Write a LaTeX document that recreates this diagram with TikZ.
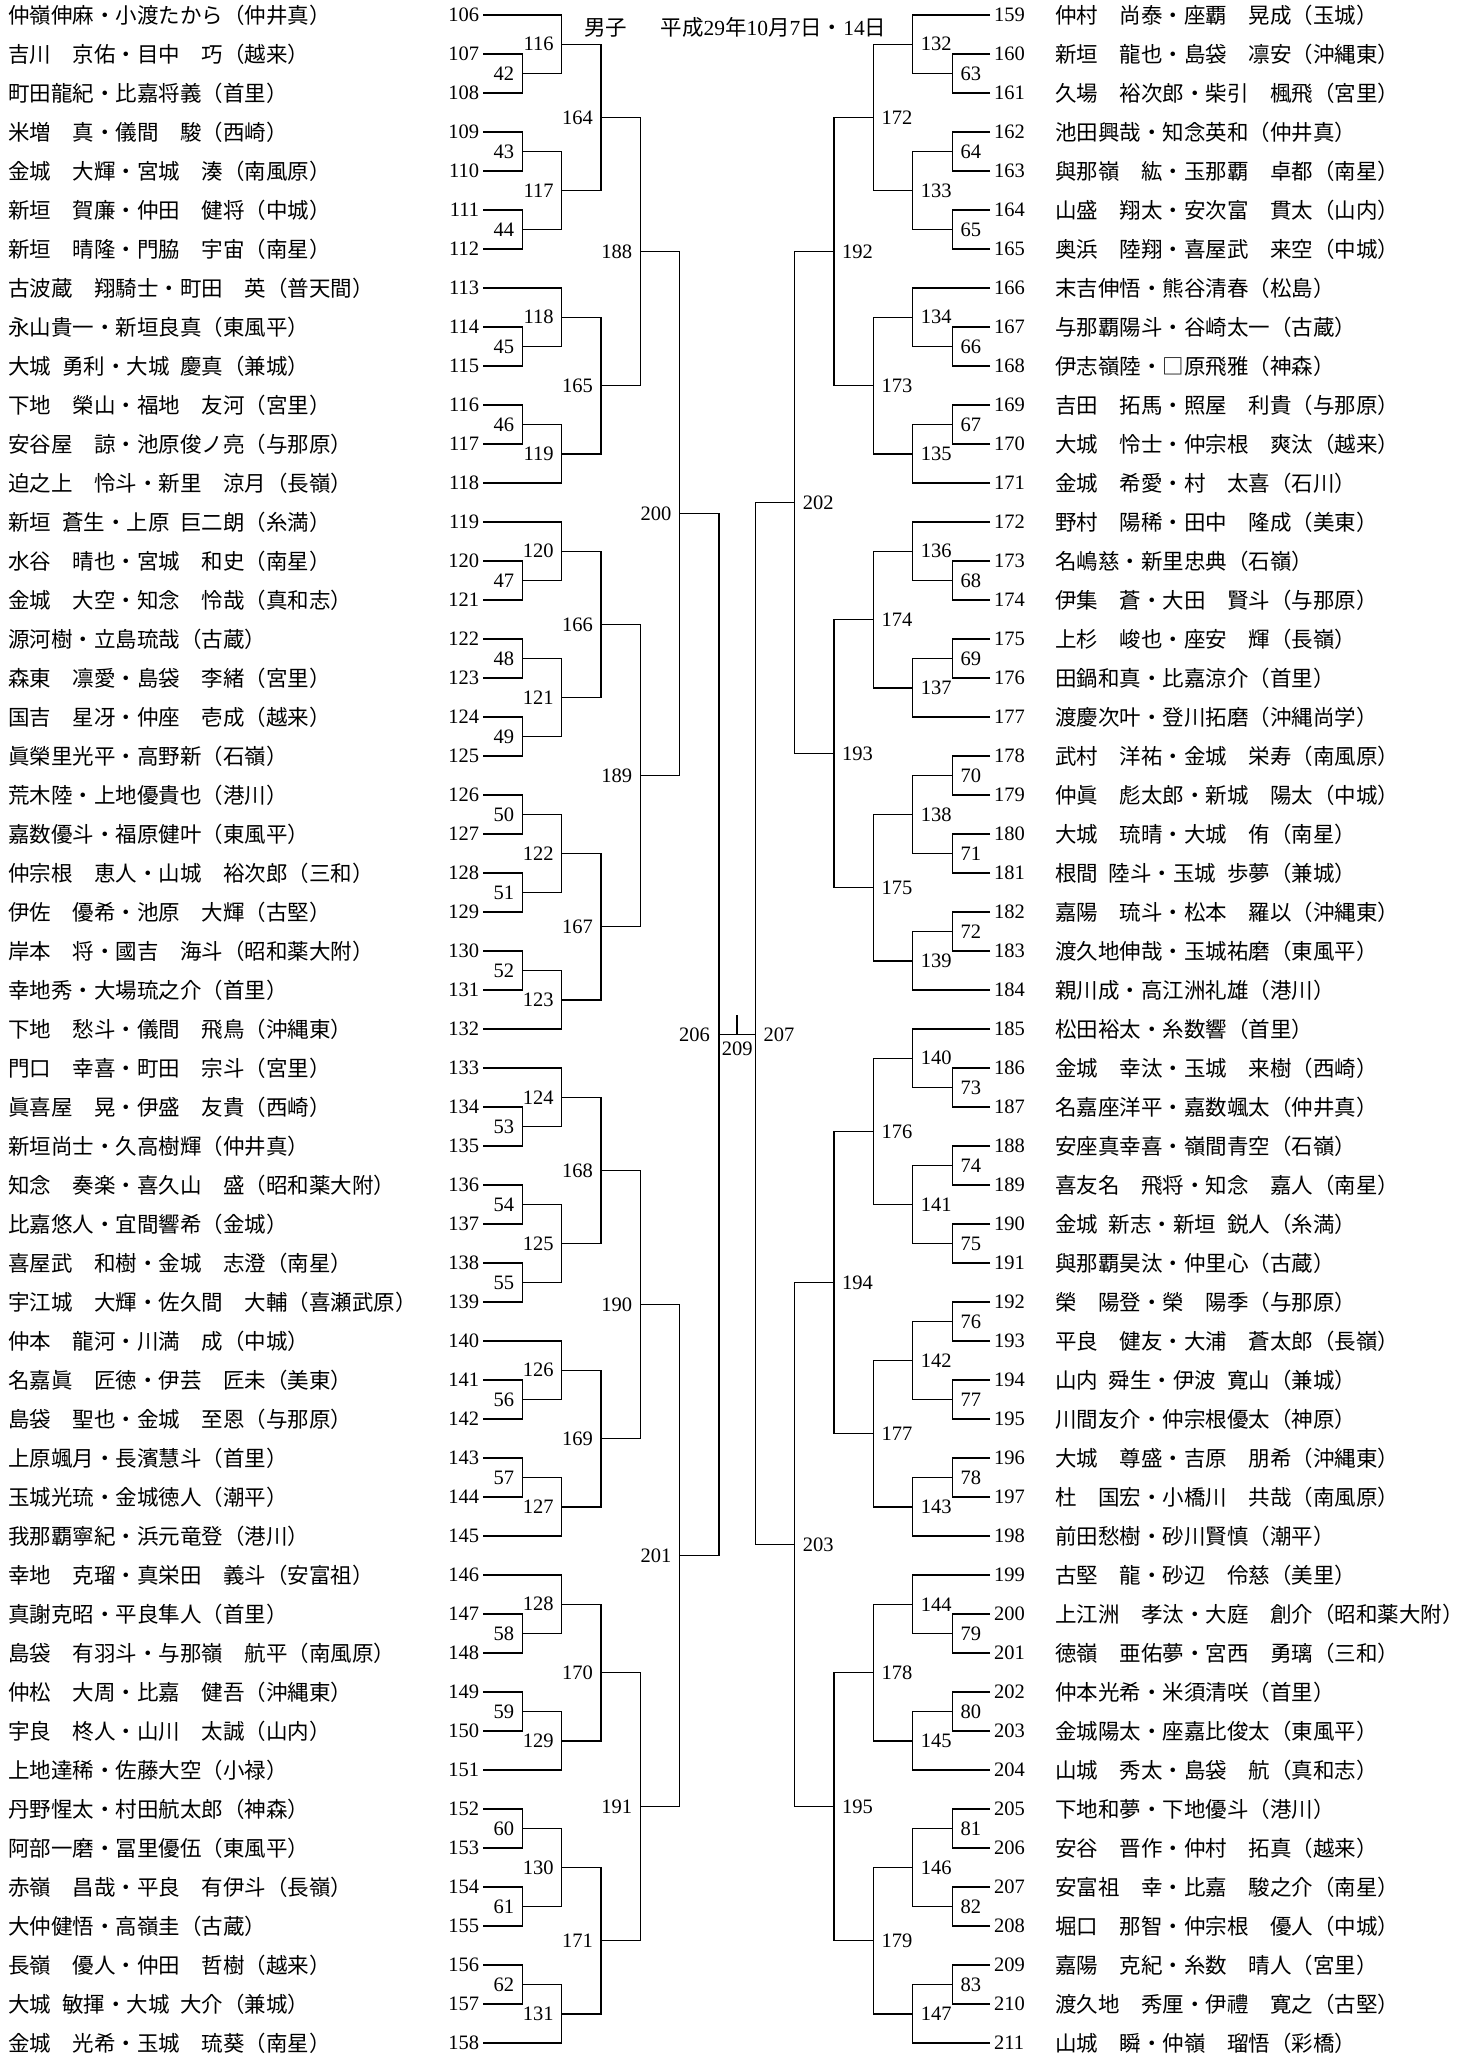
\documentclass[tikz,border=0pt]{standalone}
\usepackage{fontspec}
\setmainfont{Liberation Serif}
\newfontfamily\jp{Noto Sans CJK JP}
\newcommand\hs{\hspace{0.5em}}
\begin{document}
\begin{tikzpicture}[x=1pt,y=-39pt,
  brk/.style={line width=1.5pt, line join=miter},
  dig/.style={inner sep=0pt, font=\fontsize{20.5}{24}\selectfont},
  lblL/.style={dig, anchor=east},
  lblR/.style={dig, anchor=west},
  nm/.style={inner sep=0pt, anchor=base west, font=\jp\fontsize{21.5}{26}\selectfont},
]
\fill[white] (0,-0.384615) rectangle (1474,52.333333);
\useasboundingbox (0,-0.384615) rectangle (1474,52.333333);

% ---------- title ----------
\node[nm] (title1) at ([yshift=-20.4pt]584,0) {男子};
\node[nm] (title2) at ([yshift=-20.4pt]660.5,0) {平成{\rmfamily 29}年{\rmfamily 10}月{\rmfamily 7}日・{\rmfamily 14}日};

% ---------- leaves ----------
\foreach \kk in {106,...,158} {
  \coordinate (r\kk) at (483.3,\kk-106);
  \node[lblL] (n\kk) at ([xshift=-4pt]r\kk) {\kk};
}
\foreach \kk in {159,...,211} {
  \coordinate (r\kk) at (990,\kk-159);
  \node[lblR] (n\kk) at ([xshift=4pt]r\kk) {\kk};
}

% ---------- names left ----------
\foreach \kk/\tx in {
106/仲嶺伸麻・小渡たから（仲井真）,
107/吉川　京佑・目中　巧（越来）,
108/町田龍紀・比嘉将義（首里）,
109/米増　真・儀間　駿（西崎）,
110/金城　大輝・宮城　湊（南風原）,
111/新垣　賀廉・仲田　健将（中城）,
112/新垣　晴隆・門脇　宇宙（南星）,
113/古波蔵　翔騎士・町田　英（普天間）,
114/永山貴一・新垣良真（東風平）,
115/大城\hs{}勇利・大城\hs{}慶真（兼城）,
116/下地　榮山・福地　友河（宮里）,
117/安谷屋　諒・池原俊ノ亮（与那原）,
118/迫之上　怜斗・新里　涼月（長嶺）,
119/新垣\hs{}蒼生・上原\hs{}巨二朗（糸満）,
120/水谷　晴也・宮城　和史（南星）,
121/金城　大空・知念　怜哉（真和志）,
122/源河樹・立島琉哉（古蔵）,
123/森東　凛愛・島袋　李緒（宮里）,
124/国吉　星冴・仲座　壱成（越来）,
125/眞榮里光平・高野新（石嶺）,
126/荒木陸・上地優貴也（港川）,
127/嘉数優斗・福原健叶（東風平）,
128/仲宗根　恵人・山城　裕次郎（三和）,
129/伊佐　優希・池原　大輝（古堅）,
130/岸本　将・國吉　海斗（昭和薬大附）,
131/幸地秀・大場琉之介（首里）,
132/下地　愁斗・儀間　飛鳥（沖縄東）,
133/門口　幸喜・町田　宗斗（宮里）,
134/眞喜屋　晃・伊盛　友貴（西崎）,
135/新垣尚士・久高樹輝（仲井真）,
136/知念　奏楽・喜久山　盛（昭和薬大附）,
137/比嘉悠人・宜間響希（金城）,
138/喜屋武　和樹・金城　志澄（南星）,
139/宇江城　大輝・佐久間　大輔（喜瀬武原）,
140/仲本　龍河・川満　成（中城）,
141/名嘉眞　匠徳・伊芸　匠未（美東）,
142/島袋　聖也・金城　至恩（与那原）,
143/上原颯月・長濱慧斗（首里）,
144/玉城光琉・金城徳人（潮平）,
145/我那覇寧紀・浜元竜登（港川）,
146/幸地　克瑠・真栄田　義斗（安富祖）,
147/真謝克昭・平良隼人（首里）,
148/島袋　有羽斗・与那嶺　航平（南風原）,
149/仲松　大周・比嘉　健吾（沖縄東）,
150/宇良　柊人・山川　太誠（山内）,
151/上地達稀・佐藤大空（小禄）,
152/丹野惺太・村田航太郎（神森）,
153/阿部一磨・冨里優伍（東風平）,
154/赤嶺　昌哉・平良　有伊斗（長嶺）,
155/大仲健悟・高嶺圭（古蔵）,
156/長嶺　優人・仲田　哲樹（越来）,
157/大城\hs{}敏揮・大城\hs{}大介（兼城）,
158/金城　光希・玉城　琉葵（南星）}
{\node[nm] (nm\kk) at ([yshift=-8.2pt]8.3,\kk-106) {\tx};}

% ---------- names right ----------
\foreach \kk/\tx in {
159/仲村　尚泰・座覇　晃成（玉城）,
160/新垣　龍也・島袋　凛安（沖縄東）,
161/久場　裕次郎・柴引　楓飛（宮里）,
162/池田興哉・知念英和（仲井真）,
163/與那嶺　紘・玉那覇　卓都（南星）,
164/山盛　翔太・安次富　貫太（山内）,
165/奥浜　陸翔・喜屋武　来空（中城）,
166/末吉伸悟・熊谷清春（松島）,
167/与那覇陽斗・谷崎太一（古蔵）,
168/伊志嶺陸・□原飛雅（神森）,
169/吉田　拓馬・照屋　利貴（与那原）,
170/大城　怜士・仲宗根　爽汰（越来）,
171/金城　希愛・村　太喜（石川）,
172/野村　陽稀・田中　隆成（美東）,
173/名嶋慈・新里忠典（石嶺）,
174/伊集　蒼・大田　賢斗（与那原）,
175/上杉　峻也・座安　輝（長嶺）,
176/田鍋和真・比嘉涼介（首里）,
177/渡慶次叶・登川拓磨（沖縄尚学）,
178/武村　洋祐・金城　栄寿（南風原）,
179/仲眞　彪太郎・新城　陽太（中城）,
180/大城　琉晴・大城　侑（南星）,
181/根間\hs{}陸斗・玉城\hs{}歩夢（兼城）,
182/嘉陽　琉斗・松本　羅以（沖縄東）,
183/渡久地伸哉・玉城祐磨（東風平）,
184/親川成・高江洲礼雄（港川）,
185/松田裕太・糸数響（首里）,
186/金城　幸汰・玉城　来樹（西崎）,
187/名嘉座洋平・嘉数颯太（仲井真）,
188/安座真幸喜・嶺間青空（石嶺）,
189/喜友名　飛将・知念　嘉人（南星）,
190/金城\hs{}新志・新垣\hs{}鋭人（糸満）,
191/與那覇昊汰・仲里心（古蔵）,
192/榮　陽登・榮　陽季（与那原）,
193/平良　健友・大浦　蒼太郎（長嶺）,
194/山内\hs{}舜生・伊波\hs{}寛山（兼城）,
195/川間友介・仲宗根優太（神原）,
196/大城　尊盛・吉原　朋希（沖縄東）,
197/杜　国宏・小橋川　共哉（南風原）,
198/前田愁樹・砂川賢慎（潮平）,
199/古堅　龍・砂辺　伶慈（美里）,
200/上江洲　孝汰・大庭　創介（昭和薬大附）,
201/徳嶺　亜佑夢・宮西　勇璃（三和）,
202/仲本光希・米須清咲（首里）,
203/金城陽太・座嘉比俊太（東風平）,
204/山城　秀太・島袋　航（真和志）,
205/下地和夢・下地優斗（港川）,
206/安谷　晋作・仲村　拓真（越来）,
207/安富祖　幸・比嘉　駿之介（南星）,
208/堀口　那智・仲宗根　優人（中城）,
209/嘉陽　克紀・糸数　晴人（宮里）,
210/渡久地　秀厘・伊禮　寛之（古堅）,
211/山城　瞬・仲嶺　瑠悟（彩橋）}
{\node[nm] (nm\kk) at ([yshift=-8.2pt]1055,\kk-159) {\tx};}

% ---------- left matches ----------
\foreach \m/\yy in {42/1.5,43/3.5,44/5.5,45/8.5,46/10.5,47/14.5,48/16.5,49/18.5,50/20.5,51/22.5,52/24.5,53/28.5,54/30.5,55/32.5,56/35.5,57/37.5,58/41.5,59/43.5,60/46.5,61/48.5,62/50.5}
{\coordinate (m\m) at (522.3,\yy); \node[lblL] (t\m) at ([xshift=-8pt]m\m) {\m};}
\foreach \m/\yy in {116/0.75,117/4.5,118/7.75,119/11.25,120/13.75,121/17.5,122/21.5,123/25.25,124/27.75,125/31.5,126/34.75,127/38.25,128/40.75,129/44.25,130/47.5,131/51.25}
{\coordinate (m\m) at (561.7,\yy); \node[lblL] (t\m) at ([xshift=-8pt]m\m) {\m};}
\foreach \m/\yy in {164/2.625,165/9.5,166/15.625,167/23.375,168/29.625,169/36.5,170/42.5,171/49.375}
{\coordinate (m\m) at (601,\yy); \node[lblL] (t\m) at ([xshift=-8pt]m\m) {\m};}
\foreach \m/\yy in {188/6.0625,189/19.5,190/33.0625,191/45.9375}
{\coordinate (m\m) at (640.3,\yy); \node[lblL] (t\m) at ([xshift=-8pt]m\m) {\m};}
\foreach \m/\yy in {200/12.78125,201/39.5}
{\coordinate (m\m) at (679.6,\yy); \node[lblL] (t\m) at ([xshift=-8pt]m\m) {\m};}
\coordinate (m206) at (719,26.140625);
\node[lblL] (t206) at ([xshift=-9pt]m206) {206};

% ---------- right matches ----------
\foreach \m/\yy in {63/1.5,64/3.5,65/5.5,66/8.5,67/10.5,68/14.5,69/16.5,70/19.5,71/21.5,72/23.5,73/27.5,74/29.5,75/31.5,76/33.5,77/35.5,78/37.5,79/41.5,80/43.5,81/46.5,82/48.5,83/50.5}
{\coordinate (m\m) at (952.3,\yy); \node[lblR] (t\m) at ([xshift=8pt]m\m) {\m};}
\foreach \m/\yy in {132/0.75,133/4.5,134/7.75,135/11.25,136/13.75,137/17.25,138/20.5,139/24.25,140/26.75,141/30.5,142/34.5,143/38.25,144/40.75,145/44.25,146/47.5,147/51.25}
{\coordinate (m\m) at (912.7,\yy); \node[lblR] (t\m) at ([xshift=8pt]m\m) {\m};}
\foreach \m/\yy in {172/2.625,173/9.5,174/15.5,175/22.375,176/28.625,177/36.375,178/42.5,179/49.375}
{\coordinate (m\m) at (873.3,\yy); \node[lblR] (t\m) at ([xshift=8pt]m\m) {\m};}
\foreach \m/\yy in {192/6.0625,193/18.9375,194/32.5,195/45.9375}
{\coordinate (m\m) at (834,\yy); \node[lblR] (t\m) at ([xshift=8pt]m\m) {\m};}
\foreach \m/\yy in {202/12.5,203/39.21875}
{\coordinate (m\m) at (794.7,\yy); \node[lblR] (t\m) at ([xshift=8pt]m\m) {\m};}
\coordinate (m207) at (755.4,26.140625);
\node[lblR] (t207) at ([xshift=8pt]m207) {207};

% ---------- final ----------
\coordinate (m209) at (737.2,26.140625);
\coordinate (tick209) at ([yshift=19pt]m209);
\node[dig, anchor=north] (t209) at ([yshift=-7pt]m209) {209};
\draw[brk] (m206) -- (m207);
\draw[brk] (m209) -- (tick209);

% ---------- connectors left ----------
\foreach \c/\p in {
r107/m42,r108/m42,r109/m43,r110/m43,r111/m44,r112/m44,r114/m45,r115/m45,
r116/m46,r117/m46,r120/m47,r121/m47,r122/m48,r123/m48,r124/m49,r125/m49,
r126/m50,r127/m50,r128/m51,r129/m51,r130/m52,r131/m52,r134/m53,r135/m53,
r136/m54,r137/m54,r138/m55,r139/m55,r141/m56,r142/m56,r143/m57,r144/m57,
r147/m58,r148/m58,r149/m59,r150/m59,r152/m60,r153/m60,r154/m61,r155/m61,
r156/m62,r157/m62,
r106/m116,m42/m116,m43/m117,m44/m117,r113/m118,m45/m118,m46/m119,r118/m119,
r119/m120,m47/m120,m48/m121,m49/m121,m50/m122,m51/m122,m52/m123,r132/m123,
r133/m124,m53/m124,m54/m125,m55/m125,r140/m126,m56/m126,m57/m127,r145/m127,
r146/m128,m58/m128,m59/m129,r151/m129,m60/m130,m61/m130,m62/m131,r158/m131,
m116/m164,m117/m164,m118/m165,m119/m165,m120/m166,m121/m166,m122/m167,m123/m167,
m124/m168,m125/m168,m126/m169,m127/m169,m128/m170,m129/m170,m130/m171,m131/m171,
m164/m188,m165/m188,m166/m189,m167/m189,m168/m190,m169/m190,m170/m191,m171/m191,
m188/m200,m189/m200,m190/m201,m191/m201,m200/m206,m201/m206}
{\draw[brk] (\c) -| (\p);}

% ---------- connectors right ----------
\foreach \c/\p in {
r160/m63,r161/m63,r162/m64,r163/m64,r164/m65,r165/m65,r167/m66,r168/m66,
r169/m67,r170/m67,r173/m68,r174/m68,r175/m69,r176/m69,r178/m70,r179/m70,
r180/m71,r181/m71,r182/m72,r183/m72,r186/m73,r187/m73,r188/m74,r189/m74,
r190/m75,r191/m75,r192/m76,r193/m76,r194/m77,r195/m77,r196/m78,r197/m78,
r200/m79,r201/m79,r202/m80,r203/m80,r205/m81,r206/m81,r207/m82,r208/m82,
r209/m83,r210/m83,
r159/m132,m63/m132,m64/m133,m65/m133,r166/m134,m66/m134,m67/m135,r171/m135,
r172/m136,m68/m136,m69/m137,r177/m137,m70/m138,m71/m138,m72/m139,r184/m139,
r185/m140,m73/m140,m74/m141,m75/m141,m76/m142,m77/m142,m78/m143,r198/m143,
r199/m144,m79/m144,m80/m145,r204/m145,m81/m146,m82/m146,m83/m147,r211/m147,
m132/m172,m133/m172,m134/m173,m135/m173,m136/m174,m137/m174,m138/m175,m139/m175,
m140/m176,m141/m176,m142/m177,m143/m177,m144/m178,m145/m178,m146/m179,m147/m179,
m172/m192,m173/m192,m174/m193,m175/m193,m176/m194,m177/m194,m178/m195,m179/m195,
m192/m202,m193/m202,m194/m203,m195/m203,m202/m207,m203/m207}
{\draw[brk] (\c) -| (\p);}
\end{tikzpicture}
\end{document}
